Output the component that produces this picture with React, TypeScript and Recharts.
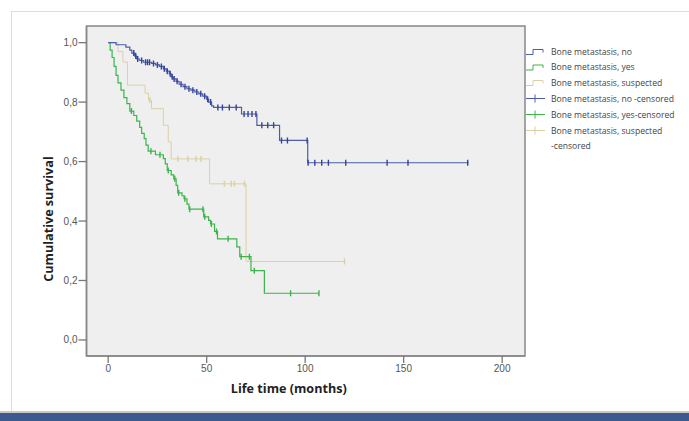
import React from "react";
import { ComposedChart, Line, Scatter, XAxis, YAxis, ReferenceArea } from "recharts";

// Kaplan-Meier step points [months, survival]
const noSteps: number[][] = [
  [0, 1.0], [4, 0.993], [9, 0.985], [11, 0.975], [12, 0.965], [13.5, 0.955], [14.5, 0.945],
  [16, 0.94], [18, 0.934], [22, 0.93], [24, 0.925], [26, 0.92], [28, 0.912], [29.5, 0.904],
  [31, 0.895], [32, 0.885], [33, 0.878], [34.5, 0.87], [36, 0.86], [38, 0.852], [40, 0.845],
  [42, 0.84], [44, 0.834], [46, 0.828], [48, 0.82], [50, 0.81], [51, 0.8], [52.5, 0.787],
  [53.5, 0.782], [67.7, 0.76], [75.5, 0.722], [87, 0.671], [101.3, 0.596], [183, 0.596],
];
const noCensored: number[][] = [
  [13, 0.965], [14, 0.955], [15, 0.945], [17, 0.94], [19, 0.934], [20, 0.934], [21, 0.934],
  [23, 0.93], [25, 0.925], [27, 0.92], [28.5, 0.912], [30, 0.904], [31.5, 0.895], [32.5, 0.885],
  [33.5, 0.878], [35, 0.87], [37, 0.86], [39, 0.852], [41, 0.845], [43, 0.84], [45, 0.834],
  [47, 0.828], [49, 0.82], [50.5, 0.81], [52, 0.8], [55.7, 0.782], [58, 0.782], [61.5, 0.782],
  [65, 0.782], [69, 0.76], [71, 0.76], [73, 0.76], [75, 0.76], [78, 0.722], [81, 0.722],
  [84, 0.722], [88, 0.671], [91, 0.671], [101, 0.671], [101.5, 0.596], [104.9, 0.596],
  [108.4, 0.596], [111.8, 0.596], [120.6, 0.596], [141.6, 0.596], [152.2, 0.596], [182.5, 0.596],
];

const yesSteps: number[][] = [
  [0, 1.0], [1, 0.975], [2, 0.95], [3, 0.92], [4, 0.89], [5, 0.865], [6.5, 0.84], [8, 0.815],
  [9.5, 0.795], [11, 0.77], [13, 0.755], [14.5, 0.736], [16, 0.715], [17, 0.695], [18.3, 0.677],
  [19.2, 0.655], [20.3, 0.635], [24, 0.623], [28, 0.61], [29, 0.592], [30, 0.57], [32, 0.555],
  [33.3, 0.542], [34.5, 0.52], [35.3, 0.495], [37.5, 0.485], [38.5, 0.475], [40, 0.457],
  [41, 0.44], [48.5, 0.414], [51, 0.402], [52, 0.39], [54, 0.365], [55.5, 0.34], [65.3, 0.313],
  [66.8, 0.28], [72.5, 0.233], [79.3, 0.157], [107, 0.157],
];
const yesCensored: number[][] = [
  [11.8, 0.77], [21.7, 0.635], [26.3, 0.623], [30.5, 0.57], [33.8, 0.542], [35.8, 0.495],
  [38.9, 0.475], [41.4, 0.44], [48.1, 0.44], [49, 0.414], [52.4, 0.39], [55, 0.365],
  [60.9, 0.34], [67.5, 0.28], [71.7, 0.28], [74.2, 0.233], [92.6, 0.157], [107, 0.157],
];

const suspSteps: number[][] = [
  [0, 1.0], [5, 0.97], [7.5, 0.935], [9.8, 0.857], [18.7, 0.83], [20.5, 0.806], [22, 0.778],
  [28, 0.722], [30.5, 0.666], [32, 0.609], [51.5, 0.525], [70, 0.264], [120, 0.264],
];
const suspCensored: number[][] = [
  [21.2, 0.806], [35.4, 0.609], [40.4, 0.609], [44.6, 0.609], [47.1, 0.609], [59, 0.525],
  [62.5, 0.525], [64.1, 0.525], [69.2, 0.525], [120, 0.264],
];

const xTicks = [0, 50, 100, 150, 200];
const yTicks = [0, 0.2, 0.4, 0.6, 0.8, 1.0];
const legendLabels = [
  "Bone metastasis, no",
  "Bone metastasis, yes",
  "Bone metastasis, suspected",
  "Bone metastasis, no -censored",
  "Bone metastasis, yes-censored",
  "Bone metastasis, suspected",
];

const BLUE = "#4b5ea8";
const GREEN = "#3cb44b";
const TAN = "#dccfa6";

const X_DOMAIN: [number, number] = [-11, 211.6];
const Y_DOMAIN: [number, number] = [-0.054, 1.056];

const toPts = (arr: number[][]) => arr.map(([t, s]) => ({ t, s }));

const tick = (color: string) => (p: any) => (
  <line x1={p.cx} x2={p.cx} y1={p.cy - 3} y2={p.cy + 3} stroke={color} strokeWidth={1.4} />
);

function LegendBox() {
  const rows = [51.5, 67, 82.5, 98.5, 114.5, 130.5];
  const colors = [BLUE, GREEN, TAN, BLUE, GREEN, TAN];
  return (
    <svg width={689} height={421} style={{ position: "absolute", left: 0, top: 0 }}>
      {rows.map((y, i) => (
        <g key={i}>
          {i < 3 ? (
            <polyline
              points={`526,${y + 3} 533,${y + 3} 533,${y - 2} 543,${y - 2} 543,${y + 1}`}
              fill="none"
              stroke={colors[i]}
              strokeWidth={1}
            />
          ) : (
            <g stroke={colors[i]} strokeWidth={1}>
              <line x1={526} x2={545} y1={y} y2={y} />
              <line x1={535} x2={535} y1={y - 4} y2={y + 4} />
            </g>
          )}
          <text x={551} y={y} dominantBaseline="central" fontSize={8.6} fill="#444" fontFamily="Open Sans">
            {legendLabels[i]}
          </text>
        </g>
      ))}
      <text x={551} y={146} dominantBaseline="central" fontSize={8.6} fill="#444" fontFamily="Open Sans">
        -censored
      </text>
    </svg>
  );
}

export default function App() {
  return (
    <div style={{ position: "fixed", left: 0, top: 0, width: 689, height: 421, background: "#fff", overflow: "hidden" }}>
      <div style={{ position: "absolute", left: 11, top: 11, width: 700, height: 399, borderLeft: "1px solid #ddd", borderTop: "1px solid #ddd" }} />
      <div style={{ position: "absolute", left: 0, top: 411, width: 689, height: 2, background: "#c8c8c8" }} />
      <div style={{ position: "absolute", left: 0, top: 413, width: 689, height: 8, background: "#3c5a8e" }} />
      <div style={{ position: "absolute", left: 0, top: 0 }}>
        <ComposedChart width={689} height={421} margin={{ top: 26, right: 164, bottom: 25, left: 26.5 }}>
          <XAxis
            dataKey="t"
            type="number"
            domain={X_DOMAIN}
            ticks={xTicks}
            allowDataOverflow
            height={40}
            tickSize={7}
            tickMargin={2}
            axisLine={{ stroke: "#888", strokeWidth: 1.5 }}
            tickLine={{ stroke: "#777", strokeWidth: 1.3 }}
            tick={{ fontSize: 10, fill: "#555", fontFamily: "Liberation Sans" }}
            label={(props: any) => {
              const vb = props.viewBox;
              return (
                <text x={vb.x + vb.width / 2 - 17} y={393} textAnchor="middle" fontSize={12.6} fontWeight="bold" fill="#222" fontFamily="Open Sans">
                  Life time (months)
                </text>
              );
            }}
          />
          <YAxis
            dataKey="s"
            type="number"
            domain={Y_DOMAIN}
            ticks={yTicks}
            allowDataOverflow
            width={60}
            tickSize={8}
            tickMargin={1}
            axisLine={{ stroke: "#888", strokeWidth: 1.5 }}
            tickLine={{ stroke: "#777", strokeWidth: 1.3 }}
            tick={{ fontSize: 10, fill: "#555", fontFamily: "Liberation Sans" }}
            tickFormatter={(v: number) => v.toFixed(1).replace(".", ",")}
            label={(props: any) => {
              const vb = props.viewBox;
              const cy = vb.y + vb.height / 2 + 28;
              return (
                <text x={48} y={cy} transform={`rotate(-90 48 ${cy})`} textAnchor="middle" dominantBaseline="central" fontSize={12.6} fontWeight="bold" fill="#222" fontFamily="Open Sans">
                  Cumulative survival
                </text>
              );
            }}
          />
          <ReferenceArea x1={X_DOMAIN[0]} x2={X_DOMAIN[1]} y1={Y_DOMAIN[0]} y2={Y_DOMAIN[1]} fill="#efefef" fillOpacity={1} stroke="#888" strokeWidth={1.5} />
          <Line data={toPts(suspSteps)} dataKey="s" type="stepAfter" stroke={TAN} strokeWidth={1} dot={false} isAnimationActive={false} />
          <Line data={toPts(yesSteps)} dataKey="s" type="stepAfter" stroke={GREEN} strokeWidth={1.2} dot={false} isAnimationActive={false} />
          <Line data={toPts(noSteps)} dataKey="s" type="stepAfter" stroke={BLUE} strokeWidth={1.2} dot={false} isAnimationActive={false} />
          <Scatter data={toPts(suspCensored)} dataKey="s" shape={tick(TAN)} isAnimationActive={false} />
          <Scatter data={toPts(yesCensored)} dataKey="s" shape={tick(GREEN)} isAnimationActive={false} />
          <Scatter data={toPts(noCensored)} dataKey="s" shape={tick("#34449a")} isAnimationActive={false} />
        </ComposedChart>
      </div>
      <LegendBox />
    </div>
  );
}
